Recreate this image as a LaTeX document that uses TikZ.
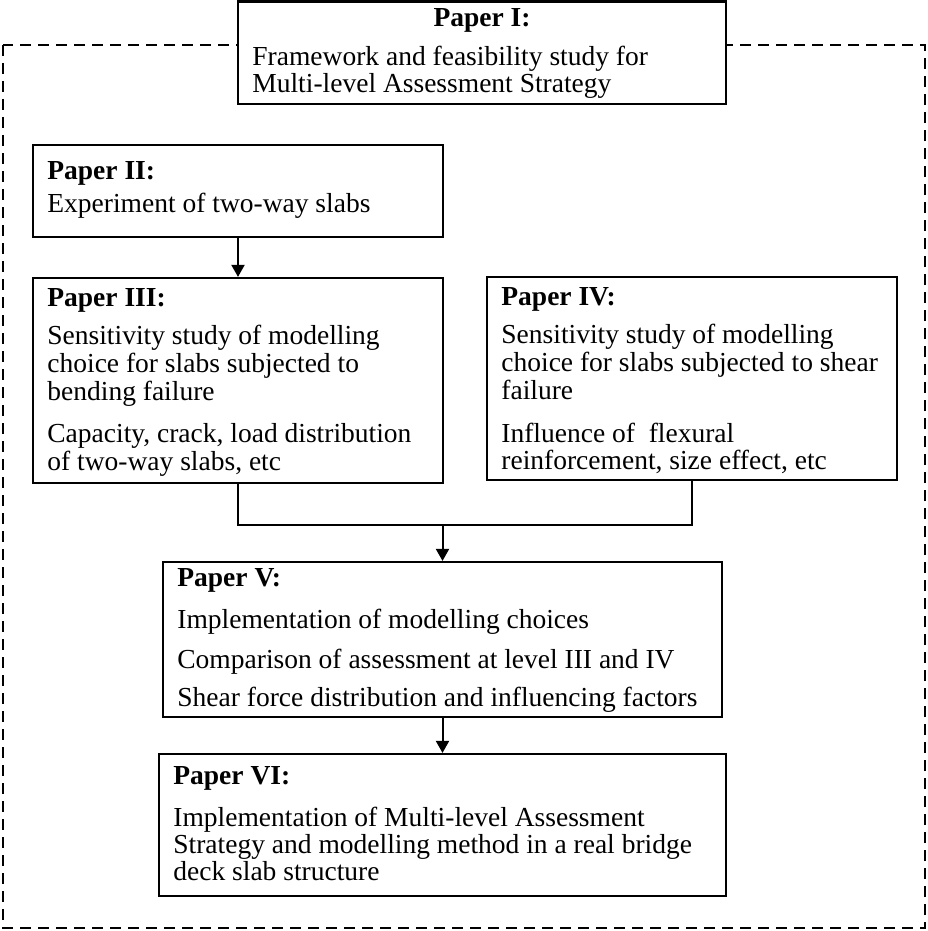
\documentclass[tikz,border=0pt]{standalone}
\usepackage{fontspec}
\setmainfont{Liberation Serif}
\usetikzlibrary{arrows.meta,fit}
\begin{document}
\begin{tikzpicture}[x=0.5pt,y=-0.5pt,
  box/.style={draw, line width=1.1pt, fill=white, inner sep=0pt},
  txt/.style={anchor=base west, inner sep=0pt, font=\fontsize{13.75pt}{13.75pt}\selectfont},
  ttl/.style={txt, font=\fontsize{13.75pt}{13.75pt}\selectfont\bfseries},
  link/.style={line width=1pt},
  arr/.style={link, -{Triangle[width=6.5pt,length=6pt]}},
  frame/.style={draw, line width=1pt, dash pattern=on 5.5pt off 3.5pt}]
\useasboundingbox (0,0) rectangle (927,931);
\draw[frame] (3,45) rectangle (925,928);
% boxes
\node[box, fit={(238,1.5) (726,104)}] (p1) {};
\node[box, fit={(33,145) (443,237)}] (p2) {};
\node[box, fit={(33,278) (443,483)}] (p3) {};
\node[box, fit={(487,277) (897,480)}] (p4) {};
\node[box, fit={(163,562) (722,717)}] (p5) {};
\node[box, fit={(159,754) (726,896)}] (p6) {};
% Paper I
\node[ttl, anchor=base] (p1t) at (482,27) {Paper I:};
\node[txt] (p1a) at (252,66) {Framework and feasibility study for};
\node[txt] (p1b) at (252,93) {Multi-level Assessment Strategy};
% Paper II
\node[ttl] (p2t) at (47,179) {Paper II:};
\node[txt] (p2a) at (47,212) {Experiment of two-way slabs};
% Paper III
\node[ttl] (p3t) at (47,306) {Paper III:};
\node[txt] (p3a) at (47,344) {Sensitivity study of modelling};
\node[txt] (p3b) at (47,372) {choice for slabs subjected to};
\node[txt] (p3c) at (47,400) {bending failure};
\node[txt] (p3d) at (47,442) {Capacity, crack, load distribution};
\node[txt] (p3e) at (47,470) {of two-way slabs, etc};
% Paper IV
\node[ttl] (p4t) at (501,305) {Paper IV:};
\node[txt] (p4a) at (501,343) {Sensitivity study of modelling};
\node[txt] (p4b) at (501,371) {choice for slabs subjected to shear};
\node[txt] (p4c) at (501,399) {failure};
\node[txt] (p4d) at (501,442) {Influence of\ \ flexural};
\node[txt] (p4e) at (501,469) {reinforcement, size effect, etc};
% Paper V
\node[ttl] (p5t) at (177,586) {Paper V:};
\node[txt] (p5a) at (177,628) {Implementation of modelling choices};
\node[txt] (p5b) at (177,668) {Comparison of assessment at level III and IV};
\node[txt] (p5c) at (177,706) {Shear force distribution and influencing factors};
% Paper VI
\node[ttl] (p6t) at (173,784) {Paper VI:};
\node[txt] (p6a) at (173,826) {Implementation of Multi-level Assessment};
\node[txt] (p6b) at (173,853) {Strategy and modelling method in a real bridge};
\node[txt] (p6c) at (173,880) {deck slab structure};
% connectors
\draw[arr] (p2.south) -- (p3.north);
\coordinate (jn) at (442.5,525);
\draw[link] (p3.south) |- (jn) -| (p4.south);
\draw[arr] (jn) -- (p5.north);
\draw[arr] (p5.south) -- (p6.north);
\end{tikzpicture}
\end{document}
